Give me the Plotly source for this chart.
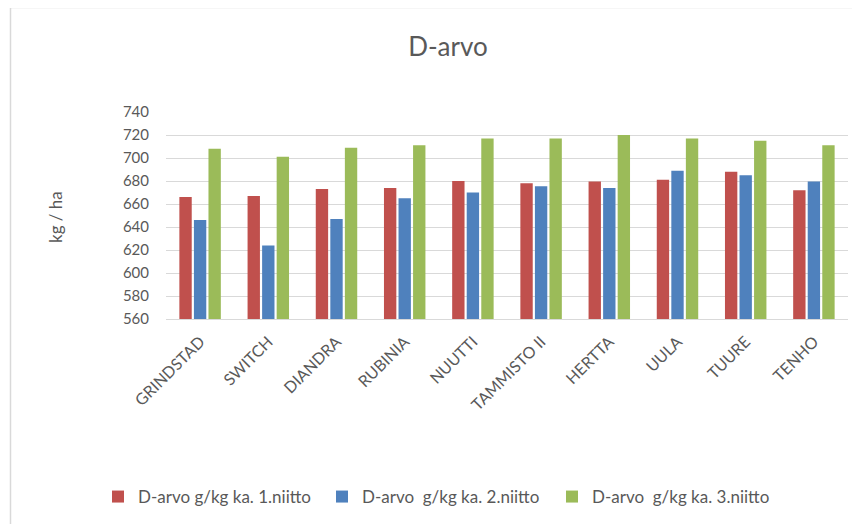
import plotly.graph_objects as go

categories = ["GRINDSTAD", "SWITCH", "DIANDRA", "RUBINIA", "NUUTTI",
              "TAMMISTO II", "HERTTA", "UULA", "TUURE", "TENHO"]
niitto1 = [666, 667, 673, 674, 680, 678, 679.5, 681, 688, 672]
niitto2 = [646, 624, 647, 665, 670, 675.5, 674, 689, 685, 679.5]
niitto3 = [708, 701, 709, 711, 717, 717, 720, 717, 715, 711]
series_names = ["D-arvo g/kg ka. 1.niitto", "D-arvo  g/kg ka. 2.niitto", "D-arvo  g/kg ka. 3.niitto"]
colors = ["#C0504D", "#4F81BD", "#9BBB59"]

FONT = "Lato, 'Open Sans', sans-serif"
TXT = "#595959"

W, H = 852, 516  # page body has an 8px margin
legend_ids = ["legend", "legend2", "legend3"]
legend_x_px = [90, 314, 544]

fig = go.Figure()
for name, vals, c, lid in zip(series_names, [niitto1, niitto2, niitto3], colors, legend_ids):
    fig.add_trace(go.Bar(x=categories, y=vals, name=name, marker_color=c,
                         marker_line_width=0, legend=lid))

legend_common = dict(orientation="h", xanchor="left", xref="container", yref="container",
                     y=1 - 489 / H, yanchor="middle", font=dict(size=17, color=TXT),
                     itemwidth=30, bgcolor="rgba(0,0,0,0)")
fig.update_layout(
    width=W, height=H,
    margin=dict(l=158, r=12, t=104, b=205),
    paper_bgcolor="white", plot_bgcolor="white",
    barmode="group", bargap=0.36, bargroupgap=0.15,
    font=dict(family=FONT, color=TXT, size=14),
    title=dict(text="D-arvo", x=(448 - 8) / W, xanchor="center", y=1 - 39 / H, yanchor="middle",
               font=dict(size=26, color=TXT, family=FONT)),
    legend=dict(x=legend_x_px[0] / W, **legend_common),
    legend2=dict(x=legend_x_px[1] / W, **legend_common),
    legend3=dict(x=legend_x_px[2] / W, **legend_common),
    showlegend=True,
)
fig.update_yaxes(range=[560, 740], dtick=20, showgrid=True, gridcolor="#D9D9D9",
                 gridwidth=1.3, zeroline=False, showline=False,
                 tickfont=dict(size=15, color=TXT), ticks="", ticklabelstandoff=16)
fig.update_xaxes(tickangle=-45, showline=True, linecolor="#D9D9D9", linewidth=1.3,
                 tickfont=dict(size=16, color=TXT), ticks="", ticklabelstandoff=6)

fig.add_annotation(text="kg / ha", xref="paper", yref="paper",
                   x=(55 - 166) / 682, y=(319 - 217) / 207.0, textangle=-90,
                   showarrow=False, font=dict(size=17, color=TXT),
                   xanchor="center", yanchor="middle")

fig.add_shape(type="rect", xref="paper", yref="paper",
              x0=(10.5 - 166) / 682, x1=(875 - 166) / 682,
              y0=(319 - 7.5) / 207.0, y1=(319 - 545) / 207.0,
              line=dict(color="#D9D9D9", width=1.5), fillcolor="rgba(0,0,0,0)",
              layer="below")

fig.write_html("out.html")
